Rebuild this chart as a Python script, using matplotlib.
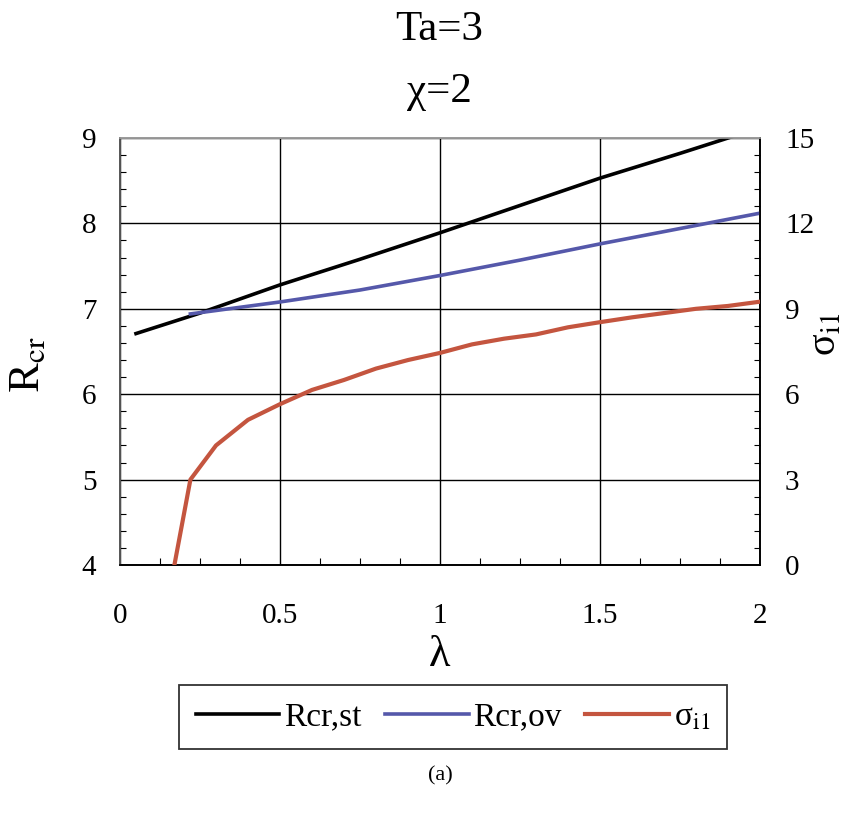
import matplotlib
matplotlib.use("Agg")
import matplotlib.pyplot as plt
from matplotlib.ticker import MultipleLocator

plt.rcParams['font.family'] = ['Liberation Serif', 'DejaVu Serif']
plt.rcParams['mathtext.fontset'] = 'stix'

# Data
lam_st = [0.05, 0.25, 0.5, 0.75, 1.0, 1.25, 1.5, 1.75, 2.0]
R_st = [6.71, 6.95, 7.28, 7.58, 7.89, 8.21, 8.53, 8.82, 9.12]

lam_ov = [0.22, 0.5, 0.75, 1.0, 1.25, 1.5, 1.75, 2.0]
R_ov = [6.94, 7.08, 7.22, 7.39, 7.57, 7.76, 7.94, 8.12]

lam_sig = [0.17, 0.22, 0.3, 0.4, 0.5, 0.6, 0.7, 0.8, 0.9, 1.0,
           1.1, 1.2, 1.3, 1.4, 1.5, 1.6, 1.7, 1.8, 1.9, 2.0]
sigma = [0.0, 3.0, 4.2, 5.1, 5.65, 6.15, 6.5, 6.9, 7.2, 7.45,
         7.75, 7.95, 8.1, 8.35, 8.53, 8.7, 8.85, 9.0, 9.1, 9.25]

x_ticks = [0, 0.5, 1, 1.5, 2]
x_ticklabels = ['0', '0.5', '1', '1.5', '2']
left_ticks = [4, 5, 6, 7, 8, 9]
right_ticks = [0, 3, 6, 9, 12, 15]

W, H = 850, 813
fig = plt.figure(figsize=(W / 100, H / 100), dpi=100)
L, R_, B, T = 120, 760, 565, 138
ax = fig.add_axes([L / W, 1 - B / H, (R_ - L) / W, (B - T) / H])
ax2 = ax.twinx()

c_blue = '#5558aa'
c_red = '#c4553f'
h1, = ax.plot(lam_st, R_st, color='black', lw=2.6, label='Rcr,st', zorder=4)
h2, = ax.plot(lam_ov, R_ov, color=c_blue, lw=2.6, label='Rcr,ov', zorder=5)
h3, = ax2.plot(lam_sig, sigma, color=c_red, lw=3.0, label='σ$_{\\rm i1}$', zorder=5)

ax.set_xlim(0, 2)
ax.set_ylim(4, 9)
ax2.set_ylim(0, 15)
ax.set_xticks(x_ticks)
ax.set_xticklabels(x_ticklabels)
ax.set_yticks(left_ticks)
ax2.set_yticks(right_ticks)
ax.xaxis.set_minor_locator(MultipleLocator(0.125))
ax.yaxis.set_minor_locator(MultipleLocator(0.2))
ax2.yaxis.set_minor_locator(MultipleLocator(0.6))

ax.grid(True, which='major', color='black', lw=1.0)
ax.set_axisbelow(True)

ax.tick_params(axis='x', which='major', direction='in', length=0, pad=27, labelsize=21)
ax.tick_params(axis='x', which='minor', direction='in', length=5, width=0.8)
ax.tick_params(axis='y', which='major', direction='in', length=0, pad=17, labelsize=21)
ax.tick_params(axis='y', which='minor', direction='in', length=4, width=0.8)
ax2.tick_params(axis='y', which='major', direction='in', length=0, pad=18, labelsize=21)
ax2.tick_params(axis='y', which='minor', direction='in', length=4, width=0.8)

for a in (ax, ax2):
    a.spines['top'].set_color('#999999')
    a.spines['left'].set_color('#555555')
    a.spines['right'].set_color('black')
    a.spines['bottom'].set_color('black')
    for s in a.spines.values():
        s.set_linewidth(1.2)

ax.set_xlabel('λ', fontsize=32)
ax.xaxis.label.set_va('center')
ax.xaxis.set_label_coords(0.5, -0.211)
ax.set_ylabel('R$_{\\rm cr}$', fontsize=32)
ax.yaxis.label.set_va('center')
ax.yaxis.set_label_coords(-0.144, 0.47)
ax2.set_ylabel('σ$_{\\rm i1}$', fontsize=29)
ax2.yaxis.label.set_va('center')
ax2.yaxis.set_label_coords(1.104, 0.54)

fig.text(439 / W, 1 - 30 / H, 'Ta=3', fontsize=31, ha='center', va='center')
fig.text(439 / W, 1 - 92 / H, 'χ=2', fontsize=31, ha='center', va='center')

leg = fig.legend(handles=[h1, h2, h3], loc='center', ncol=3,
                 bbox_to_anchor=(453 / W, 1 - 717 / H), fontsize=24,
                 frameon=True, fancybox=False, edgecolor='black',
                 handlelength=2.5, handletextpad=0.15, columnspacing=0.7,
                 borderpad=0.5, borderaxespad=0)
leg.get_frame().set_linewidth(1.3)

fig.text(440 / W, 1 - 776 / H, '(a)', fontsize=16, ha='center', va='center')

fig.savefig('out.png', dpi=100)
